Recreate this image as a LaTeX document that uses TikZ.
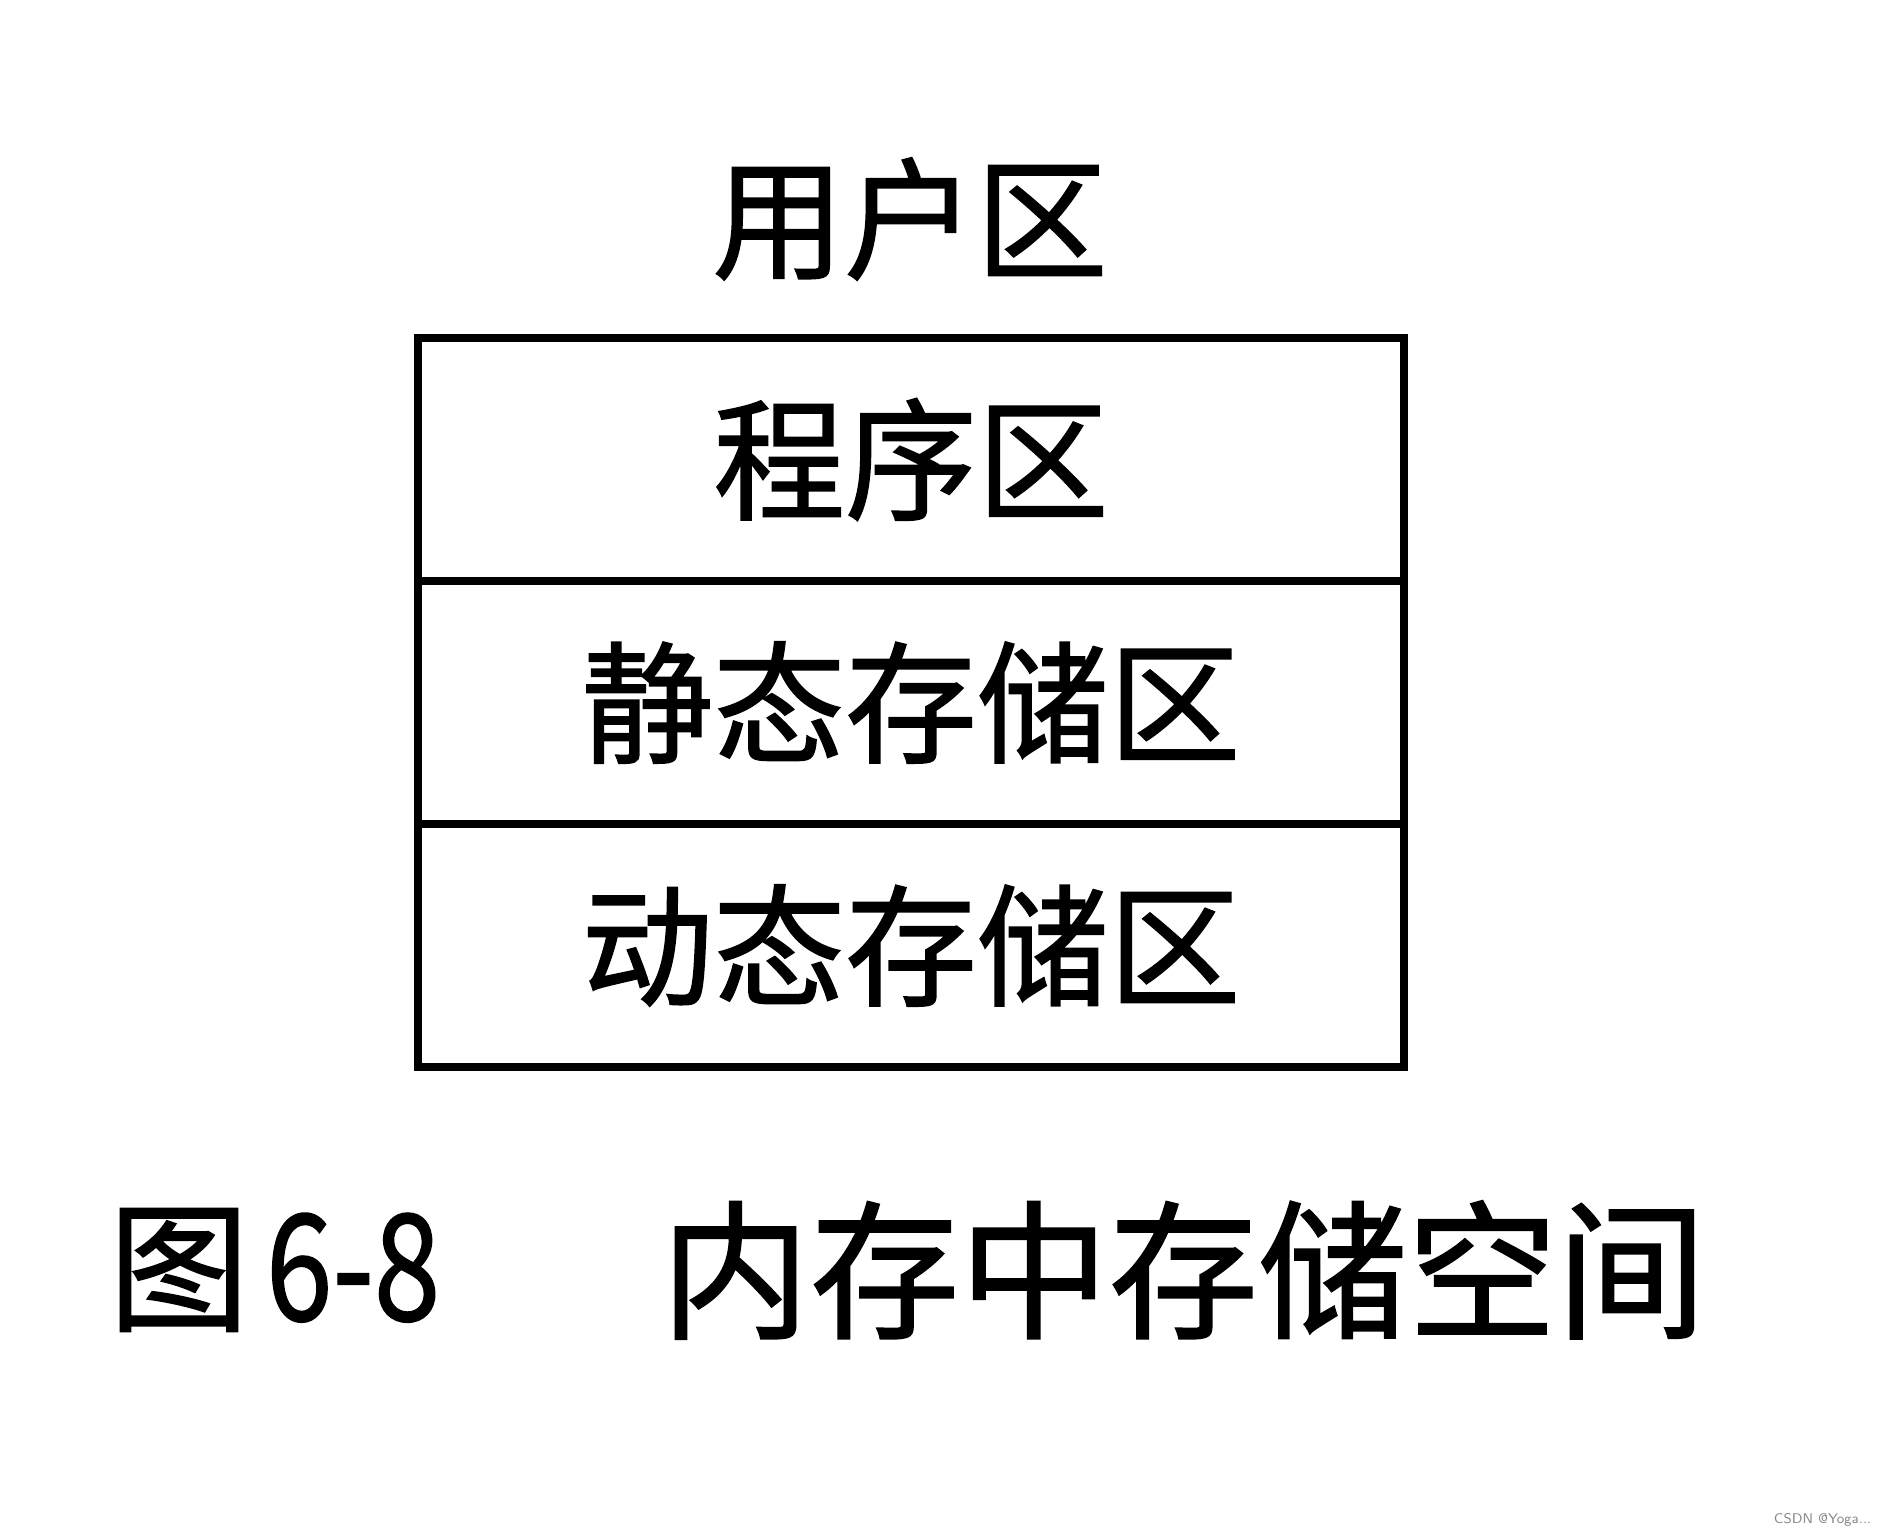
\documentclass[tikz,border=0pt]{standalone}
\usepackage{fontspec}
\usepackage{xcolor}
\usepackage{tikz}
\usetikzlibrary{positioning}
\newfontfamily\cjk{Noto Sans CJK SC}[FakeBold=1.2]
\definecolor{markgray}{HTML}{8A8A8A}
\tikzset{
    zone/.style={draw, line width=2.4pt, outer sep=0pt,
        minimum width=9.86cm, minimum height=2.43cm,
        font=\cjk\fontsize{37.5}{40}\selectfont},
    caption/.style={inner sep=0pt, anchor=west,
        font=\cjk\fontsize{42.5}{45}\selectfont}
}

\begin{document}
\begin{tikzpicture}
    \useasboundingbox (0,0) rectangle (18.81,15.36);
    \node[font=\cjk\fontsize{37.5}{40}\selectfont] (user) at (9.10,13.17) {用户区};
    \node[zone] (prog) at (9.11,10.765) {程序区};
    \node[zone] (static) at (9.11,8.335) {静态存储区};
    \node[zone] (dynamic) at (9.11,5.905) {动态存储区};
    \node[caption, font=\cjk\fontsize{40}{45}\selectfont] (figno) at (1.08,2.66) {图\hspace{0.12em}\scalebox{0.85}[1.05]{6-8}};
    \node[caption] (figname) at (6.60,2.66) {内存中存储空间};
    \node[anchor=east, inner sep=0pt, text=markgray,
        font=\fontsize{4}{5}\selectfont\sffamily] (mark) at (18.72,0.16) {CSDN @Yoga...};
\end{tikzpicture}
\end{document}
